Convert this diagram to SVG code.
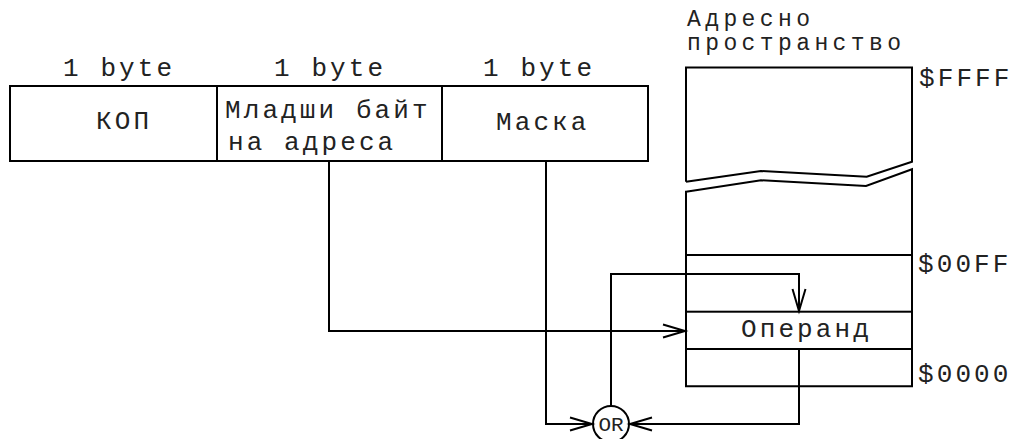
<svg xmlns="http://www.w3.org/2000/svg" width="1015" height="439" viewBox="0 0 1015 439">
<style>
.ln{fill:none;stroke:#000;stroke-width:2}
.t{font-family:"Liberation Mono","DejaVu Sans Mono",monospace;font-size:26px;letter-spacing:3.1px;fill:#222}
.h{font-family:"Liberation Mono","DejaVu Sans Mono",monospace;font-size:23px;letter-spacing:4.4px;fill:#222}
.s{font-family:"Liberation Mono","DejaVu Sans Mono",monospace;font-size:21px;fill:#222}
</style>
<defs>
<marker id="arr" viewBox="-24 -8 26 16" markerWidth="26" markerHeight="16" refX="0" refY="0" markerUnits="userSpaceOnUse" orient="auto" overflow="visible">
<path d="M-22,-6.5 L0,0 L-22,6.5" fill="none" stroke="#000" stroke-width="2"/>
</marker>
</defs>
<rect width="1015" height="439" fill="#fff"/>
<g id="instruction">
<rect class="ln" x="10" y="86" width="638" height="75"/>
<line class="ln" x1="217" y1="86" x2="217" y2="161"/>
<line class="ln" x1="442" y1="86" x2="442" y2="161"/>
<text class="t" x="63" y="76">1 byte</text>
<text class="t" x="274" y="76">1 byte</text>
<text class="t" x="483" y="76">1 byte</text>
<text class="t" x="96" y="129">КОП</text>
<text class="t" x="225" y="118">Младши байт</text>
<text class="t" x="228" y="150">на адреса</text>
<text class="t" x="496" y="130">Маска</text>
</g>
<g id="address-space">
<text class="h" x="687" y="26">Адресно</text>
<text class="h" x="687" y="50">пространство</text>
<path class="ln" d="M686,181.7 L686,67.5 L912,67.5 L912,161.7 L866.7,176.7 L761,171 L686,181.7"/>
<path class="ln" d="M686,191.7 L761,180.3 L866,186 L912,169.3 L912,386.3 L686,386.3 Z"/>
<line class="ln" x1="686" y1="255" x2="913" y2="255"/>
<text class="t" x="919" y="86">$FFFF</text>
<text class="t" x="918" y="272">$00FF</text>
<text class="t" x="918" y="382">$0000</text>
</g>
<g id="operand">
<rect class="ln" x="686" y="311.7" width="226" height="37.3"/>
<text class="t" x="741" y="337">Операнд</text>
</g>
<g id="or">
<circle class="ln" cx="611" cy="424" r="18"/>
<text class="s" x="598.5" y="431">OR</text>
</g>
<g id="connectors">
<path class="ln" d="M329,161 V331 H685" marker-end="url(#arr)"/>
<path class="ln" d="M546,161 V424 H592" marker-end="url(#arr)"/>
<path class="ln" d="M799,349 V424 H630" marker-end="url(#arr)"/>
<path class="ln" d="M611,406 V274 H799 V311" marker-end="url(#arr)"/>
</g>
</svg>
